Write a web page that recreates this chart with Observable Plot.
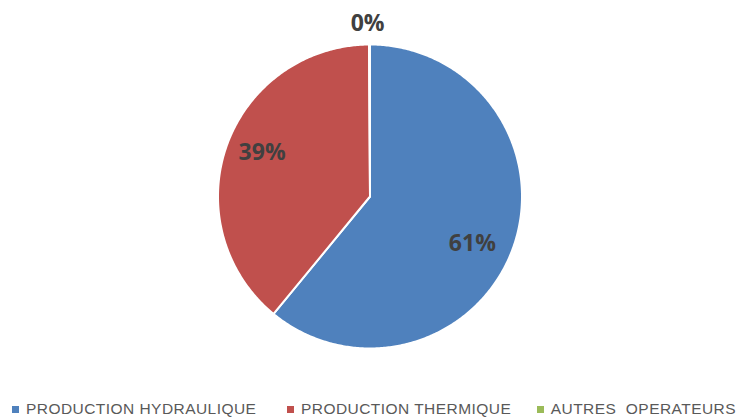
<!DOCTYPE html>
<html>
<head>
<meta charset="utf-8">
<script src="https://cdn.jsdelivr.net/npm/d3@7"></script>
<script src="https://cdn.jsdelivr.net/npm/@observablehq/plot@0.6"></script>
<style>
  html, body { margin: 0; padding: 0; background: #fff; }
  #wrap { position: relative; width: 738px; height: 419px; overflow: hidden; }
  #legend { position: absolute; left: 0; top: 398px; width: 738px; height: 21px;
    font-family: "Liberation Sans", Arial, sans-serif; font-size: 15.5px; color: #595959; letter-spacing: 0.45px; }
  .item { position: absolute; top: 2px; white-space: pre; display: flex; align-items: center; }
  .sw { display: inline-block; width: 7px; height: 7px; margin-right: 7px; }
</style>
</head>
<body>
<div id="wrap"><div id="chart"></div><div id="legend"></div></div>
<script>
const categories = ["PRODUCTION HYDRAULIQUE", "PRODUCTION THERMIQUE", "AUTRES  OPERATEURS"];
const values = [61, 39, 0.1];
const colors = ["#4F81BD", "#C0504D", "#9BBB59"];
// label placement: radius (fraction of pie radius) and angular shift (degrees)
const labelRadius = [0.74, 0.765, 1.135];
const labelShift = [4.8, 2.4, -0.6];
const legendLeft = [12, 287, null];
const legendRight = [null, null, 2];

const W = 738, H = 390, cx = 369.5, cy = 196, R = 152;

const pie = d3.pie().sort(null).value(d => d.value).startAngle(0).endAngle(2 * Math.PI);
const data = categories.map((c, i) => ({category: c, value: values[i], lr: labelRadius[i], ls: labelShift[i]}));
const arcs = pie(data);

const pts = [];
arcs.forEach(a => {
  const n = Math.max(2, Math.ceil((a.endAngle - a.startAngle) / 0.01));
  pts.push({cat: a.data.category, x: 0, y: 0});
  for (let k = 0; k <= n; k++) {
    const t = a.startAngle + (a.endAngle - a.startAngle) * k / n;
    pts.push({cat: a.data.category, x: Math.sin(t), y: Math.cos(t)});
  }
  pts.push({cat: a.data.category, x: 0, y: 0});
});
const total = d3.sum(values);
const labels = arcs.map(a => {
  const m = (a.startAngle + a.endAngle) / 2 + a.data.ls * Math.PI / 180;
  return {x: a.data.lr * Math.sin(m), y: a.data.lr * Math.cos(m),
          text: Math.round(a.data.value / total * 100) + "%"};
});

const chart = Plot.plot({
  width: W, height: H, margin: 0,
  x: {domain: [-cx / R, (W - cx) / R], range: [0, W], axis: null},
  y: {domain: [-(H - cy) / R, cy / R], range: [H, 0], axis: null},
  color: {domain: categories, range: colors},
  style: {background: "#fff"},
  marks: [
    Plot.line(pts, {x: "x", y: "y", z: "cat", fill: "cat", stroke: "#fff", strokeWidth: 2, strokeLinejoin: "round", curve: "linear"}),
    Plot.text(labels, {x: "x", y: "y", text: "text", fill: "#404040", fontSize: 23, fontWeight: "bold",
      fontFamily: "'Open Sans', sans-serif"})
  ]
});
document.getElementById("chart").appendChild(chart);

const leg = document.getElementById("legend");
categories.forEach((c, i) => {
  const it = document.createElement("div");
  it.className = "item";
  if (legendLeft[i] != null) it.style.left = legendLeft[i] + "px";
  else it.style.right = legendRight[i] + "px";
  it.innerHTML = `<span class="sw" style="background:${colors[i]}"></span><span>${c}</span>`;
  leg.appendChild(it);
});
</script>
</body>
</html>
